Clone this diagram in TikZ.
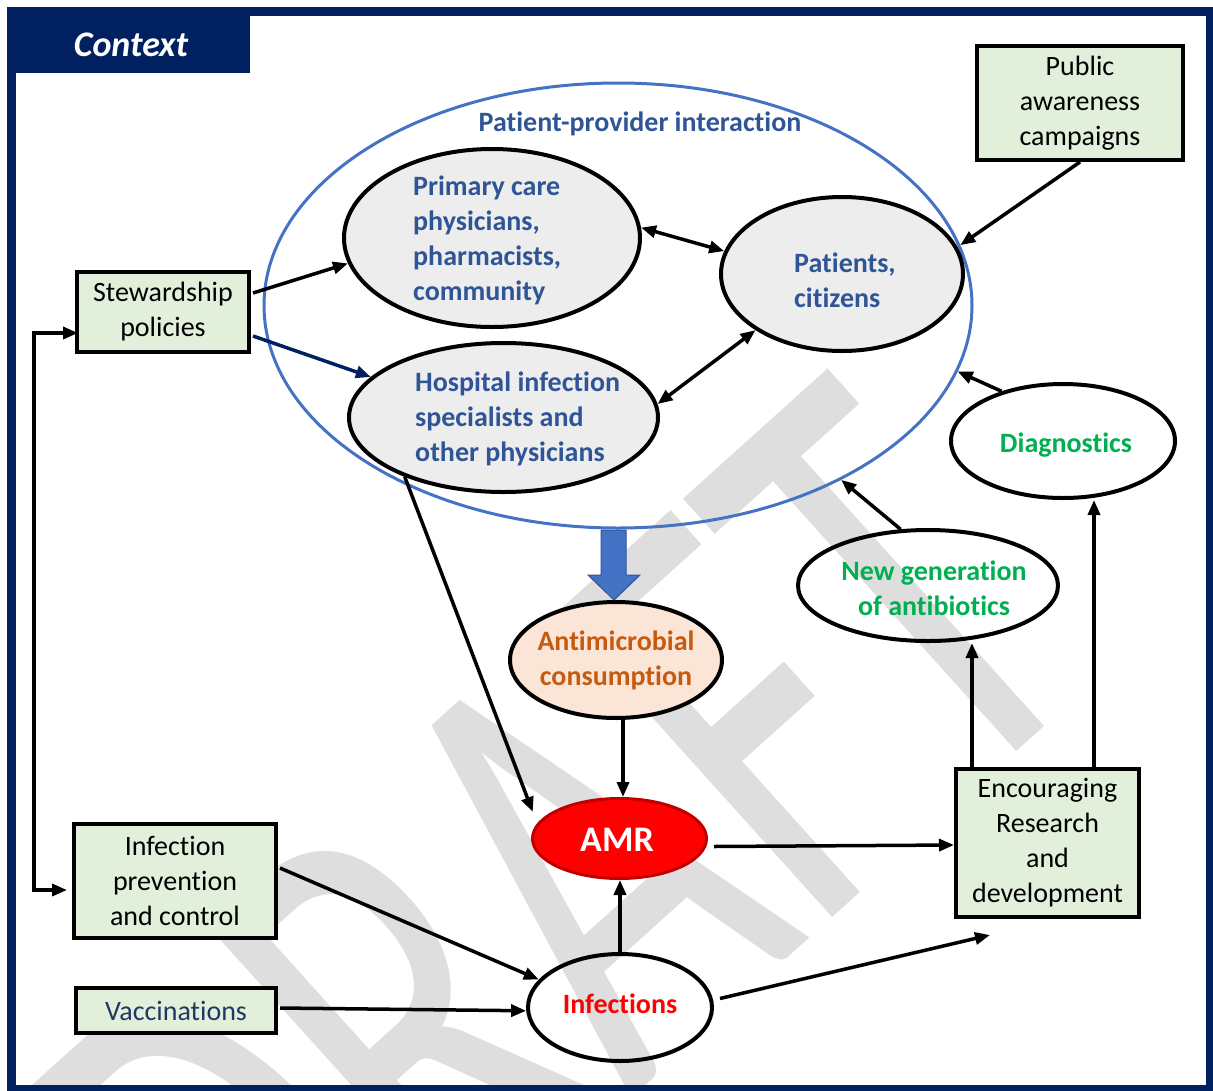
\documentclass[tikz,border=0pt]{standalone}
\usepackage{fontspec}
\setmainfont{Carlito}[Ligatures=NoCommon]
\usetikzlibrary{arrows.meta,calc,shapes.geometric}

\definecolor{navy}{HTML}{002060}
\definecolor{boxgreen}{HTML}{E2EFDA}
\definecolor{ovalgrey}{HTML}{EDEDED}
\definecolor{txtblue}{HTML}{2F5597}
\definecolor{ringblue}{HTML}{4472C4}
\definecolor{peach}{HTML}{FBE5D6}
\definecolor{rust}{HTML}{C55A11}
\definecolor{amrred}{HTML}{FF0000}
\definecolor{amrdark}{HTML}{C00000}
\definecolor{leafgreen}{HTML}{00B050}
\definecolor{vacblue}{HTML}{1F3864}
\definecolor{wmgrey}{HTML}{DEDEDE}

\begin{document}
\begin{tikzpicture}[x=1pt,y=-1pt,
  every node/.style={inner sep=0pt, font=\fontsize{28}{35}\selectfont},
  box/.style={rectangle, draw=black, line width=4pt, fill=boxgreen, align=center},
  oval/.style={ellipse, draw=black, line width=4pt},
  boldtxt/.style={font=\fontsize{28}{35}\selectfont\bfseries},
  arr/.style={line width=3.5pt, -{Triangle[length=15pt,width=12pt]}},
  dbl/.style={line width=3.5pt, {Triangle[length=15pt,width=12pt]}-{Triangle[length=15pt,width=12pt]}}
]
\useasboundingbox (0,0) rectangle (1213,1090);

% watermark behind everything
\begin{scope}
  \clip (0,0) rectangle (1213,1090);
  \begin{scope}[shift={(269,1425)}, cm={0.743,0.669,-1.020,1.132,(0,0)}]
    \node[transform shape, anchor=base west, text=wmgrey,
          font=\fontsize{420}{420}\selectfont] (wm) at (0,0) {DRAFT};
  \end{scope}
\end{scope}

% frame and tab
\draw[navy, line width=9pt] (11.5,11.5) rectangle (1210.5,1089);
\fill[navy] (7,7) rectangle (250,73);
\node[text=white, font=\fontsize{36}{40}\selectfont\bfseries\itshape] (ctx) at (131,45) {Context};

% patient-provider interaction ring
\node[ellipse, draw=ringblue, line width=3pt, minimum width=708pt, minimum height=445pt] (ppi) at (618,305.5) {};
\node[boldtxt, text=txtblue] (ppi-t) at (640,124) {Patient-provider interaction};

% actors inside the ring
\node[oval, fill=ovalgrey, minimum width=296pt, minimum height=178pt] (pc) at (492,238) {};
\node[boldtxt, text=txtblue, align=left, anchor=west] (pc-t) at (413,240.5)
  {Primary care\\physicians,\\pharmacists,\\community};
\node[oval, fill=ovalgrey, minimum width=242pt, minimum height=154pt] (pat) at (842,274) {};
\node[boldtxt, text=txtblue, align=left, anchor=west] (pat-t) at (794,280.5) {Patients,\\citizens};
\node[oval, fill=ovalgrey, minimum width=309pt, minimum height=149pt] (hos) at (503.5,417.5) {};
\node[boldtxt, text=txtblue, align=left, anchor=west] (hos-t) at (415,419)
  {Hospital infection\\specialists and\\other physicians};

% outcome ellipses
\node[oval, fill=peach, minimum width=212pt, minimum height=116pt] (amc) at (616,660) {};
\node[boldtxt, text=rust, align=center] (amc-t) at (616,660.5) {Antimicrobial\\consumption};
\node[ellipse, draw=amrdark, line width=3pt, fill=amrred, minimum width=174pt, minimum height=80pt] (amr) at (619.5,838.5) {};
\node[text=white, font=\fontsize{36}{40}\selectfont\bfseries] (amr-t) at (617,840) {AMR};
\node[oval, minimum width=184pt, minimum height=107pt] (inf) at (620,1007.5) {};
\node[boldtxt, text=amrred] (inf-t) at (620,1004) {Infections};
\node[oval, minimum width=224pt, minimum height=114pt] (diag) at (1063,441) {};
\node[boldtxt, text=leafgreen] (diag-t) at (1066,445) {Diagnostics};
\node[oval, minimum width=260pt, minimum height=111pt] (ng) at (928,585.5) {};
\node[boldtxt, text=leafgreen, align=center] (ng-t) at (934,588) {New generation\\of antibiotics};

% policy boxes
\node[box, minimum width=206pt, minimum height=114pt] (pub) at (1080,103) {Public\\awareness\\campaigns};
\node[box, minimum width=172pt, minimum height=80pt] (stew) at (163,312) {Stewardship\\policies};
\node[box, minimum width=202pt, minimum height=114pt] (ipc) at (175,881) {Infection\\prevention\\and control};
\node[box, minimum width=200pt, minimum height=45pt, text=vacblue] (vac) at (176,1010.5) {Vaccinations};
\node[box, minimum width=183pt, minimum height=148pt] (erd) at (1047.5,843) {Encouraging\\Research\\and\\development};
\coordinate (rd-in) at ($(erd.south west)+(36,16)$);

% block arrow from the ring to consumption
\draw[fill=ringblue, draw=txtblue, line width=1pt]
  ($(amc.north)+(-2,0)$) -- ++(26,-25) -- ++(-14,0) -- ++(0,-45) -- ++(-25,0) -- ++(0,45) -- ++(-13,0) -- cycle;

% connectors
\draw[arr] (pub.south) -- (ppi.10);
\draw[arr] ($(stew.east)+(2,-19)$) -- (pc.190);
\draw[arr, draw=navy, fill=navy] ($(stew.east)+(2,24)$) -- (hos.163);
\draw[dbl] (pc.4) -- (pat.169);
\draw[dbl] (hos.5) -- (pat.213);
\draw[dbl] ($(stew.west)+(3,21)$) -- ++(-44,0) |- ($(ipc.west)+(-5,9)$);
\draw[arr] (hos.211) -- ($(amr.center)!1.17!(amr.163)$);
\draw[arr] ($(amc.south)+(7,0)$) coordinate (a1) -- (a1 |- amr.north);
\draw[arr] (inf.north) -- (inf.north |- amr.south);
\draw[arr] ($(amr.east)+(6,8)$) -- ($(erd.west)+(0,2)$);
\draw[arr] ($(ipc.east)+(2,-13)$) -- (inf.161);
\draw[arr] ($(vac.east)+(2,-2.5)$) -- (inf.182);
\draw[arr] ($(inf.east)+(6,-9)$) -- (rd-in);
\draw[arr] ($(erd.north)+(-75.5,0)$) coordinate (a2) -- (a2 |- ng.south);
\draw[arr] ($(erd.north)+(46.5,0)$) coordinate (a3) -- (a3 |- diag.south);
\draw[arr] (ng.116) -- (ppi.322);
\draw[arr] (diag.141) -- (ppi.349);
\end{tikzpicture}
\end{document}
